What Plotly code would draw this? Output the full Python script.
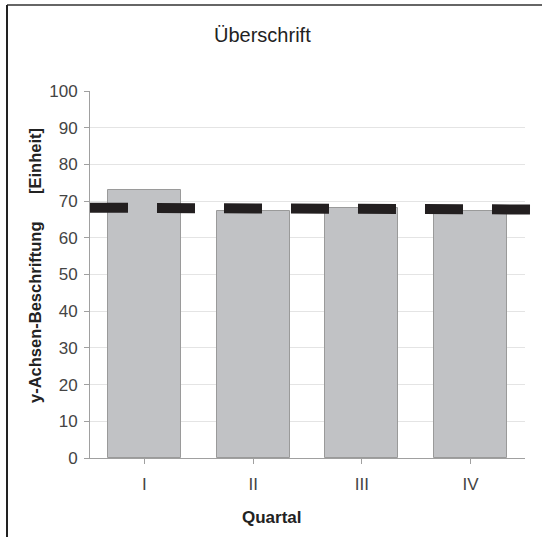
import plotly.graph_objects as go

# Quarterly values
quartale = ["I", "II", "III", "IV"]
werte = [73.1, 67.4, 68.2, 67.4]

# Reference (target) line, in category units along the x axis
referenz_x = [-0.5, 1.37, 1.72, 3.57]
referenz_y = [68.2, 68.2, 67.7, 67.7]

y_ticks = [0, 10, 20, 30, 40, 50, 60, 70, 80, 90, 100]

FONT = "Liberation Sans, Arial, sans-serif"
W, H = 542, 537
L, R, T, B = 90, 9, 91, 79
plot_w = W - L - R
axis_w = 435  # width of the visible category axis in px
frac = axis_w / plot_w

x_pos = list(range(len(quartale)))

fig = go.Figure()

fig.add_trace(go.Bar(
    x=x_pos, y=werte, width=0.67,
    marker=dict(color="#c1c2c5", line=dict(color="#9a9a9a", width=1)),
    xaxis="x", yaxis="y", showlegend=False,
))

fig.add_trace(go.Scatter(
    x=referenz_x, y=referenz_y, mode="lines",
    line=dict(color="#231f20", width=10, dash="38px,29px"),
    xaxis="x2", yaxis="y2", showlegend=False,
))

axis_common = dict(linecolor="#a0a0a0", linewidth=1, tickcolor="#a0a0a0",
                   ticks="outside", ticklen=5,
                   tickfont=dict(family=FONT, size=17, color="#444444"))

fig.update_layout(
    width=W, height=H,
    margin=dict(l=L, r=R, t=T, b=B),
    paper_bgcolor="white", plot_bgcolor="rgba(0,0,0,0)",
    bargap=0,
    xaxis=dict(domain=[0, frac], range=[-0.5, 3.5], tickmode="array",
               tickvals=x_pos, ticktext=quartale, tickson="boundaries",
               ticklabelstandoff=6,
               showgrid=False, showline=True, zeroline=False, **axis_common),
    yaxis=dict(range=[0, 100], tickvals=y_ticks, showline=True,
               ticklabelstandoff=3,
               showgrid=True, gridcolor="#e4e4e4", gridwidth=1,
               zeroline=False, **axis_common),
    xaxis2=dict(domain=[0, 1], range=[-0.5, -0.5 + 4 / frac], visible=False,
                anchor="y2"),
    yaxis2=dict(range=[0, 100], visible=False, anchor="x2",
                overlaying="y"),
)

def px_x(px):
    return (px - L) / plot_w

def px_y(px):
    return 1 - (px - T) / (H - T - B)

# Titles
fig.add_annotation(text="Überschrift", x=px_x(262), y=px_y(35), xref="paper",
                   yref="paper", showarrow=False, xanchor="center",
                   yanchor="middle", font=dict(family=FONT, size=20, color="#222"))
fig.add_annotation(text="<b>Quartal</b>", x=px_x(272), y=px_y(517), xref="paper",
                   yref="paper", showarrow=False, xanchor="center",
                   yanchor="middle", font=dict(family=FONT, size=17, color="#222"))
fig.add_annotation(text="<b>y-Achsen-Beschriftung" + "\u00a0" * 6 + "[Einheit]</b>",
                   x=px_x(35), y=px_y(266), xref="paper", yref="paper",
                   showarrow=False, textangle=-90, xanchor="center",
                   yanchor="middle", font=dict(family=FONT, size=16.5, color="#222"))

# Frame lines
fig.add_shape(type="line", xref="paper", yref="paper",
              x0=px_x(7), x1=px_x(542), y0=px_y(5), y1=px_y(5),
              line=dict(color="#666666", width=2))
fig.add_shape(type="line", xref="paper", yref="paper",
              x0=px_x(7), x1=px_x(7), y0=px_y(5), y1=px_y(537),
              line=dict(color="#222222", width=2))

fig.write_html("out.html")
